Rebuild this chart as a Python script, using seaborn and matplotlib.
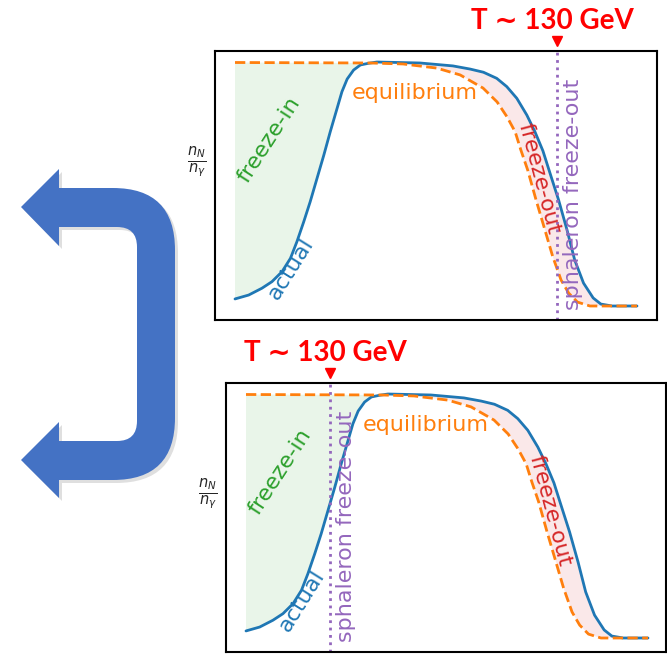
import numpy as np
import matplotlib.pyplot as plt
import seaborn as sns
from matplotlib.path import Path
from matplotlib.patches import PathPatch

# curves (x: 0..100 across the data, y: 0..1)
actual_x = [0, 3.4, 6.7, 9.2, 11.7, 13.8, 15.4, 17.1, 18.7, 20.4, 22.1, 23.7,
            25.4, 26.6, 27.9, 29.5, 31.2, 33.3, 35.3, 46.0, 54.2, 58.5, 61.8,
            65.1, 67.6, 70.1, 72.6, 74.6, 76.6, 78.1, 80.5, 82.6, 84.5, 86.7,
            89.1, 91.0, 93.8, 100]
actual_y = [0.029, 0.045, 0.073, 0.100, 0.141, 0.196, 0.264, 0.346, 0.428, 0.524,
            0.620, 0.716, 0.812, 0.880, 0.932, 0.969, 0.990, 0.997, 1.002, 0.998,
            0.986, 0.973, 0.960, 0.935, 0.901, 0.853, 0.784, 0.716, 0.637, 0.559,
            0.435, 0.312, 0.189, 0.094, 0.033, 0.008, 0.0, 0.0]

eq_x = [0, 33.6, 41.8, 50.2, 56.0, 61.7, 65.2, 67.7, 69.7, 71.1, 72.8, 74.9,
        77.1, 79.0, 81.1, 83.0, 85.2, 88.3, 100]
eq_y = [1.0, 0.998, 0.994, 0.977, 0.949, 0.895, 0.838, 0.776, 0.715, 0.641,
        0.559, 0.435, 0.312, 0.205, 0.107, 0.053, 0.016, 0.0, 0.0]

sphaleron_x = [80.1, 20.9]          # top panel, bottom panel
temp_label = "T \u223c 130 GeV"
ratio_label = r"$\frac{n_N}{n_\gamma}$"

W, H = 667, 655
PX_X, PX_Y = 4.02, 243.5  # pixels per data unit

sns.set_style("white")
plt.rcParams['font.family'] = ['DejaVu Sans']

fig = plt.figure(figsize=(W / 100, H / 100), dpi=100)


def panel(left, top, width, height, sph):
    ax = fig.add_axes([left / W, 1 - (top + height) / H, width / W, height / H])
    ax.set_xlim(-20 / PX_X, -20 / PX_X + width / PX_X)
    ax.set_ylim(-14 / PX_Y, -14 / PX_Y + height / PX_Y)
    ax.set_xticks([])
    ax.set_yticks([])
    for s in ax.spines.values():
        s.set_color('black')
        s.set_linewidth(1.5)

    ax_arr = np.array(actual_x)
    ay_arr = np.array(actual_y)
    ex_arr = np.array(eq_x)
    ey_arr = np.array(eq_y)

    # freeze-in area (left) and freeze-out area (right)
    m1 = ax_arr <= 36
    m2 = ex_arr <= 36
    ax.fill(np.concatenate([ax_arr[m1], ex_arr[m2][::-1]]),
            np.concatenate([ay_arr[m1], ey_arr[m2][::-1]]),
            color='#2ca02c', alpha=0.1, lw=0)
    m1 = ax_arr >= 35
    m2 = ex_arr >= 33
    ax.fill(np.concatenate([ax_arr[m1], ex_arr[m2][::-1]]),
            np.concatenate([ay_arr[m1], ey_arr[m2][::-1]]),
            color='#d62728', alpha=0.1, lw=0)

    sns.lineplot(x=actual_x, y=actual_y, ax=ax, color='#1f77b4', lw=2,
                 sort=False, estimator=None)
    sns.lineplot(x=eq_x, y=eq_y, ax=ax, color='#ff7f0e', lw=2, linestyle='--',
                 sort=False, estimator=None)
    ax.axvline(sph, color='#9467bd', lw=2, linestyle=':')

    ax.text(8.5, 0.682, 'freeze-in', color='#2ca02c', fontsize=16,
            rotation=57, ha='center', va='center')
    ax.text(13.9, 0.152, 'actual', color='#1f77b4', fontsize=16,
            rotation=58, ha='center', va='center')
    ax.text(44.8, 0.875, 'equilibrium', color='#ff7f0e', fontsize=16,
            ha='center', va='center')
    ax.text(75.6, 0.522, 'freeze-out', color='#d62728', fontsize=16,
            rotation=-75, ha='center', va='center')
    ax.text(sph + 4.0, -0.015, 'sphaleron freeze-out', color='#9467bd',
            fontsize=16, rotation=90, ha='center', va='bottom')

    ax.plot([sph], [1.088], marker='v', color='red', markersize=7,
            clip_on=False)
    ax.text(sph - 1.2, 1.17, temp_label, color='red', fontsize=20,
            fontweight='bold', family=['Lato', 'DejaVu Sans'],
            ha='center', va='center', clip_on=False)
    ax.text(-9.5, 0.59, ratio_label, fontsize=15, ha='center', va='center')
    return ax


panel(215, 51, 442, 269, sphaleron_x[0])
panel(226, 383, 440, 269, sphaleron_x[1])

# big U-shaped arrow on the left
deco = fig.add_axes([0, 0, 1, 1], zorder=-1)
deco.set_xlim(0, W)
deco.set_ylim(H, 0)
deco.axis('off')
verts = [(21, 207), (59, 169), (59, 188), (113, 188), (175, 188), (175, 250),
         (175, 418), (175, 480), (113, 480), (59, 480), (59, 498), (21, 460),
         (59, 422), (59, 441), (117, 441), (137, 441), (137, 421), (137, 247),
         (137, 227), (117, 227), (59, 227), (59, 246), (21, 207)]
L, C = Path.LINETO, Path.CURVE3
codes = [Path.MOVETO, L, L, L, C, C, L, C, C, L, L, L, L, L, L, C, C, L, C, C,
         L, L, Path.CLOSEPOLY]
shadow = [(x + 3, y + 3) for x, y in verts]
deco.add_patch(PathPatch(Path(shadow, codes), facecolor='gray', alpha=0.25, lw=0))
deco.add_patch(PathPatch(Path(verts, codes), facecolor='#4472C4', lw=0))

fig.savefig('out.png', dpi=100)
